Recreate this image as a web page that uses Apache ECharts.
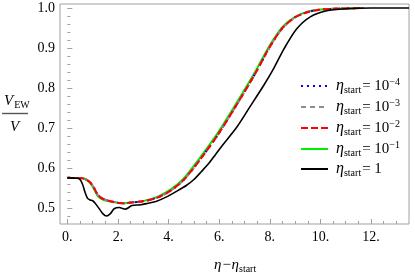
<!DOCTYPE html>
<html><head><meta charset="utf-8">
<script src="https://cdn.jsdelivr.net/npm/echarts@6/dist/echarts.min.js"></script>
<style>html,body{margin:0;padding:0;background:#fff}#c{width:415px;height:273px}</style>
</head><body><div id="c"></div>
<script>
// ---- data ----
const xColored = [0, 0.3, 0.6, 0.75, 0.9, 1.0, 1.1, 1.2, 1.4, 1.7, 2.0, 2.2, 2.6, 3.1, 3.6, 4.1, 4.6, 5.2, 5.9, 6.6, 7.2, 7.5, 8.0, 8.5, 9.0, 9.5, 10.0, 10.5, 11.0, 11.7];
const yEta1e4 = [0.576, 0.576, 0.575, 0.572, 0.565, 0.557, 0.546, 0.534, 0.524, 0.518, 0.514, 0.5125, 0.515, 0.519, 0.528, 0.545, 0.571, 0.618, 0.679, 0.749, 0.812, 0.845, 0.903, 0.950, 0.977, 0.990, 0.996, 0.998, 0.999, 1.0];
const yEta1e3 = [0.576, 0.576, 0.575, 0.572, 0.565, 0.557, 0.546, 0.534, 0.524, 0.518, 0.514, 0.5125, 0.515, 0.519, 0.528, 0.545, 0.571, 0.618, 0.679, 0.749, 0.812, 0.845, 0.903, 0.950, 0.977, 0.990, 0.996, 0.998, 0.999, 1.0];
const yEta1e2 = [0.576, 0.576, 0.575, 0.572, 0.565, 0.557, 0.546, 0.534, 0.524, 0.518, 0.514, 0.5125, 0.515, 0.519, 0.528, 0.545, 0.571, 0.618, 0.679, 0.749, 0.812, 0.845, 0.903, 0.950, 0.977, 0.990, 0.996, 0.998, 0.999, 1.0];
const yEta1e1 = [0.576, 0.576, 0.575, 0.571, 0.563, 0.554, 0.542, 0.531, 0.522, 0.517, 0.514, 0.5125, 0.515, 0.520, 0.530, 0.548, 0.575, 0.623, 0.684, 0.754, 0.817, 0.850, 0.907, 0.953, 0.978, 0.991, 0.996, 0.998, 0.999, 1.0];
const xBlack = [0, 0.4, 0.5, 0.6, 0.7, 0.8, 0.9, 1.0, 1.1, 1.25, 1.4, 1.55, 1.7, 1.85, 2.05, 2.3, 2.55, 2.9, 3.2, 3.5, 3.9, 4.3, 4.7, 5.0, 5.3, 5.6, 5.85, 6.1, 6.7, 7.2, 7.75, 8.1, 8.55, 9.05, 9.6, 10.25, 11.0, 12.0, 13.5];
const yEta1 = [0.576, 0.575, 0.572, 0.560, 0.540, 0.525, 0.521, 0.519, 0.513, 0.500, 0.487, 0.481, 0.487, 0.499, 0.502, 0.498, 0.507, 0.509, 0.513, 0.517, 0.528, 0.542, 0.557, 0.572, 0.592, 0.613, 0.634, 0.655, 0.703, 0.752, 0.806, 0.843, 0.897, 0.947, 0.978, 0.993, 0.998, 1.0, 1.0];
const legendBase = ['10', '10', '10', '10', '1'];
const legendExp = ['\u22124', '\u22123', '\u22122', '\u22121', ''];
const xMajorTicks = [0, 2, 4, 6, 8, 10, 12];
const xMinorTicks = [0.5, 1, 1.5, 2.5, 3, 3.5, 4.5, 5, 5.5, 6.5, 7, 7.5, 8.5, 9, 9.5, 10.5, 11, 11.5, 12.5, 13];
const yMajorTicks = [0.5, 0.6, 0.7, 0.8, 0.9, 1.0];
const yMinorTicks = [0.48, 0.52, 0.54, 0.56, 0.58, 0.62, 0.64, 0.66, 0.68, 0.72, 0.74, 0.76, 0.78, 0.82, 0.84, 0.86, 0.88, 0.92, 0.94, 0.96, 0.98];

const pairs = (xs, ys) => xs.map((x, i) => [x, ys[i]]);
const names = legendBase.map((b, i) => 'η_start=' + b + (legendExp[i] ? '^' + legendExp[i] : ''));
const SERIF = '"Liberation Serif","DejaVu Serif",serif';
const frame = '#a0a0a0';

const chart = echarts.init(document.getElementById('c'), null, {renderer: 'canvas'});
const axisX = (ticks, len, labels) => ({
  type: 'value', min: -0.29, max: 13.5, position: 'bottom', gridIndex: 0,
  axisLine: {show: false}, splitLine: {show: false},
  axisTick: {show: true, inside: true, length: len, customValues: ticks, lineStyle: {color: frame}},
  axisLabel: labels ? {show: true, customValues: ticks, margin: 6, fontFamily: SERIF, fontSize: 14, color: '#000', formatter: v => v + '.'} : {show: false}
});
const axisY = (ticks, len, labels) => ({
  type: 'value', min: 0.461, max: 1.01, position: 'left', gridIndex: 0,
  axisLine: {show: false}, splitLine: {show: false},
  axisTick: {show: true, inside: true, length: len, customValues: ticks, lineStyle: {color: frame}},
  axisLabel: labels ? {show: true, customValues: ticks, margin: 5, fontFamily: SERIF, fontSize: 14, color: '#000', formatter: v => v.toFixed(1)} : {show: false}
});
const richBase = {
  eta: {fontFamily: SERIF, fontStyle: 'italic', fontSize: 16, lineHeight: 18, color: '#000'},
  sub: {fontFamily: SERIF, fontSize: 10, lineHeight: 10, verticalAlign: 'bottom', color: '#000'},
  eq: {fontFamily: SERIF, fontSize: 15, lineHeight: 18, color: '#000', padding: [0, 0, 0, 1]},
  sup: {fontFamily: SERIF, fontSize: 10, lineHeight: 10, verticalAlign: 'top', color: '#000'},
  pad: {width: 3, lineHeight: 18}
};
const seriesDefs = [
  {ys: yEta1e4, xs: xColored, color: '#0000ff', dash: [2, 4], w: 2, z: 3},
  {ys: yEta1e3, xs: xColored, color: '#8c8c8c', dash: [5, 4], w: 2, z: 4},
  {ys: yEta1e2, xs: xColored, color: '#ff0000', dash: [7, 3], w: 2, z: 5},
  {ys: yEta1e1, xs: xColored, color: '#00ee00', dash: 'solid', w: 2, z: 2},
  {ys: yEta1, xs: xBlack, color: '#000000', dash: 'solid', w: 1.6, z: 6}
];
chart.setOption({
  animation: false,
  grid: {left: 60, right: 6, top: 4, bottom: 49, show: true, borderColor: frame, borderWidth: 1, backgroundColor: 'transparent'},
  xAxis: [axisX(xMajorTicks, 5, true), axisX(xMinorTicks, 3, false)],
  yAxis: [axisY(yMajorTicks, 5, true), axisY(yMinorTicks, 3, false)],
  legend: {
    orient: 'vertical', left: 295, top: 72, itemWidth: 27, itemHeight: 14, itemGap: 3,
    data: names,
    itemStyle: {opacity: 0},
    formatter: name => {
      const i = names.indexOf(name);
      return '{pad|}{eta|η}{sub|start}{eq|= ' + legendBase[i] + '}' + (legendExp[i] ? '{sup|' + legendExp[i] + '}' : '');
    },
    textStyle: {rich: richBase}
  },
  series: seriesDefs.map((d, i) => ({
    type: 'line', name: names[i], data: pairs(d.xs, d.ys), showSymbol: false, symbol: 'none',
    smooth: 0.25, z: d.z, xAxisIndex: 0, yAxisIndex: 0,
    lineStyle: {color: d.color, width: d.w, type: d.dash},
    itemStyle: {color: d.color}
  })),
  graphic: [
    {type: 'text', left: 4, top: 94, style: {text: '{v|V}{s|EW}', rich: {
      v: {fontFamily: SERIF, fontStyle: 'italic', fontSize: 15, lineHeight: 18, fill: '#000'},
      s: {fontFamily: SERIF, fontSize: 10, lineHeight: 10, verticalAlign: 'bottom', fill: '#000', padding: [0, 0, 0, 1]}}}},
    {type: 'line', shape: {x1: 2, y1: 113.5, x2: 28, y2: 113.5}, style: {stroke: '#555', lineWidth: 1.4}},
    {type: 'text', left: 10, top: 120, style: {text: 'V', fontFamily: SERIF, fontStyle: 'italic', fontSize: 15, fill: '#000'}},
    {type: 'text', left: 214, top: 258, style: {text: '{e|η−η}{s|start}', rich: {
      e: {fontFamily: SERIF, fontStyle: 'italic', fontSize: 15, lineHeight: 18, fill: '#000'},
      s: {fontFamily: SERIF, fontSize: 10, lineHeight: 10, verticalAlign: 'bottom', fill: '#000'}}}}
  ]
});
</script></body></html>
